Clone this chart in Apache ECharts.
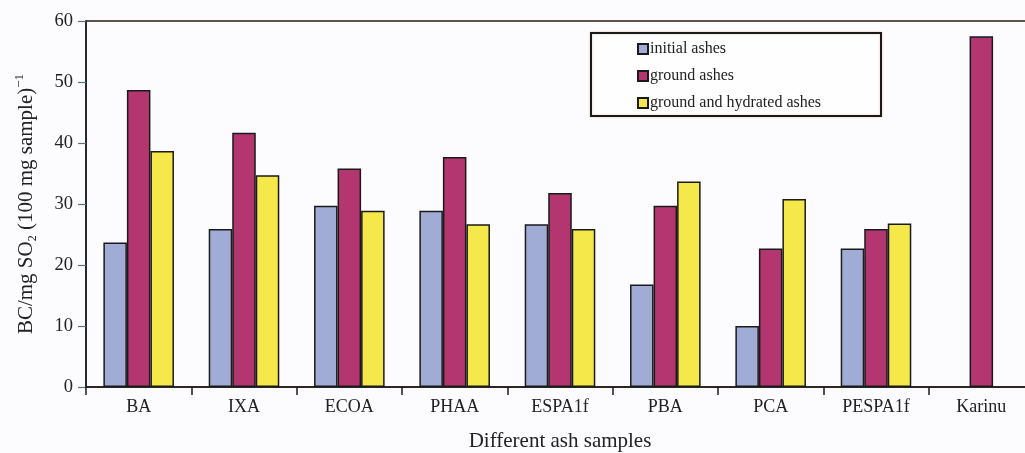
<!DOCTYPE html>
<html>
<head>
<meta charset="utf-8">
<script src="https://cdn.jsdelivr.net/npm/echarts@6/dist/echarts.min.js"></script>
<style>
  html, body { margin: 0; padding: 0; background: #fcfcfe; }
  #chart { width: 1025px; height: 453px; }
</style>
</head>
<body>
<div id="chart"></div>
<script>
// Sample categories and SO2 binding capacity values
const categories = ['BA', 'IXA', 'ECOA', 'PHAA', 'ESPA1f', 'PBA', 'PCA', 'PESPA1f', 'Karinu'];
const initialAshes = [23.7, 25.9, 29.7, 28.9, 26.7, 16.8, 10.0, 22.7, null];
const groundAshes = [48.7, 41.7, 35.8, 37.7, 31.8, 29.7, 22.7, 25.9, 57.5];
const hydratedAshes = [38.7, 34.7, 28.9, 26.7, 25.9, 33.7, 30.8, 26.8, null];
const seriesNames = ['initial ashes', 'ground ashes', 'ground and hydrated ashes'];
const yTicks = { min: 0, max: 60, interval: 10 };

const serif = '"Liberation Serif", "DejaVu Serif", serif';
const colors = ['#a0acd6', '#b33670', '#f5e84a'];

const chart = echarts.init(document.getElementById('chart'), null, { renderer: 'canvas' });

const barStyle = (c) => ({ color: c, borderColor: '#1a1a1a', borderWidth: 1.5 });

chart.setOption({
  backgroundColor: '#fcfcfe',
  animation: false,
  grid: {
    left: 86, top: 21, width: 948, height: 366,
    outerBoundsMode: 'none',
    containLabel: false,
    show: true, borderColor: '#2a1a10', borderWidth: 1.5, backgroundColor: 'transparent'
  },
  graphic: [{
    type: 'rect',
    shape: { x: 591, y: 33, width: 290, height: 83 },
    style: { fill: '#fefefe', stroke: '#1a1a1a', lineWidth: 2, shadowColor: 'rgba(230,150,110,0.6)', shadowBlur: 2 },
    z: 5
  }],
  legend: {
    data: seriesNames,
    orient: 'vertical',
    left: 632, top: 36,
    itemWidth: 10, itemHeight: 10, itemGap: 11,
    icon: 'rect',
    textStyle: { fontFamily: serif, fontSize: 16, color: '#222', padding: [0, 0, 0, -3] },
    z: 10
  },
  xAxis: {
    type: 'category',
    data: categories,
    axisLine: { lineStyle: { color: '#1a1a1a', width: 1.5 } },
    axisTick: { show: true, length: 8, lineStyle: { color: '#1a1a1a', width: 1.5 } },
    axisLabel: { fontFamily: serif, fontSize: 18, color: '#222', margin: 11 },
    name: 'Different ash samples',
    nameLocation: 'middle',
    nameGap: 44,
    nameTextStyle: { fontFamily: serif, fontSize: 21, color: '#222' }
  },
  yAxis: {
    type: 'value',
    min: yTicks.min, max: yTicks.max, interval: yTicks.interval,
    splitLine: { show: false },
    axisLine: { show: true, lineStyle: { color: '#1a1a1a', width: 1.5 } },
    axisTick: { show: true, length: 8, lineStyle: { color: '#5a7080', width: 1.2 } },
    axisLabel: { fontFamily: serif, fontSize: 18.5, color: '#222', margin: 13 },
    name: '{a|BC/mg SO}{sub|2}{a| (100 mg sample)}{sup|−1}',
    nameLocation: 'middle',
    nameGap: 47,
    nameTextStyle: {
      fontFamily: serif, color: '#222',
      rich: {
        a: { fontFamily: serif, fontSize: 21, color: '#222', lineHeight: 26 },
        sub: { fontFamily: serif, fontSize: 12, color: '#222', verticalAlign: 'bottom', lineHeight: 13 },
        sup: { fontFamily: serif, fontSize: 13, color: '#222', verticalAlign: 'top', lineHeight: 13 }
      }
    }
  },
  series: [
    { name: seriesNames[0], type: 'bar', data: initialAshes, itemStyle: barStyle(colors[0]), barGap: '0%', barCategoryGap: '33%' },
    { name: seriesNames[1], type: 'bar', data: groundAshes, itemStyle: barStyle(colors[1]), barGap: '0%', barCategoryGap: '33%' },
    { name: seriesNames[2], type: 'bar', data: hydratedAshes, itemStyle: barStyle(colors[2]), barGap: '0%', barCategoryGap: '33%' }
  ]
});
</script>
</body>
</html>
